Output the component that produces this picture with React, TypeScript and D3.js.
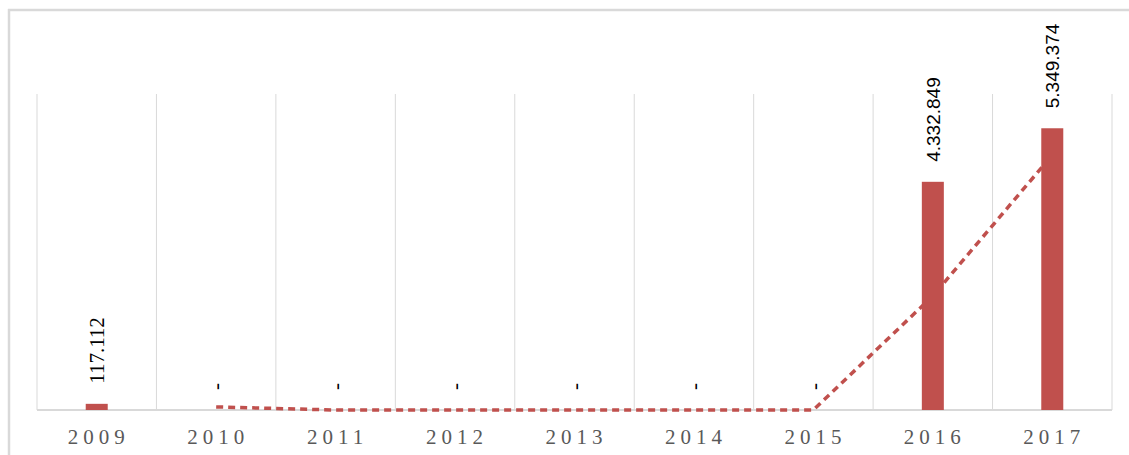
import * as d3 from 'd3';

const years = ['2009', '2010', '2011', '2012', '2013', '2014', '2015', '2016', '2017'];
const values = [117112, 0, 0, 0, 0, 0, 0, 4332849, 5349374];
const yMax = 6000000;

const W = 1129;
const H = 455;
const left = 37;
const right = 1112;
const top = 94;
const base = 410;
const red = '#C0504D';
const grid = '#d9d9d9';

const locale = d3.formatLocale({ decimal: ',', thousands: '.', grouping: [3], currency: ['', ''] });
const fmt = locale.format(',d');

export default function App(): JSX.Element {
  const x = d3.scaleBand<string>().domain(years).range([left, right]).paddingInner(0).paddingOuter(0);
  const y = d3.scaleLinear().domain([0, yMax]).range([base, top]);
  const bw = 22;
  const cx = (yr: string) => (x(yr) as number) + x.bandwidth() / 2;

  // 2-period moving average trendline
  const avg = values.slice(1).map((v, i) => ({ yr: years[i + 1], v: (v + values[i]) / 2 }));
  const line = d3
    .line<{ yr: string; v: number }>()
    .x(d => cx(d.yr))
    .y(d => y(d.v));

  const bounds = years.map(yr => x(yr) as number).concat([right]);

  return (
    <svg
      width={W}
      height={H}
      style={{ position: 'absolute', left: 0, top: 0, background: '#fff' }}
    >
      <line x1={8} x2={W} y1={10} y2={10} stroke={grid} strokeWidth={2.5} />
      <line x1={9} x2={9} y1={9} y2={H} stroke={grid} strokeWidth={2.5} />

      {bounds.map((bx, i) => (
        <line key={i} x1={bx} x2={bx} y1={top} y2={base} stroke={grid} strokeWidth={1} />
      ))}
      <line x1={left} x2={right} y1={base} y2={base} stroke={grid} strokeWidth={2} />

      <path
        d={line(avg) || ''}
        fill="none"
        stroke={red}
        strokeWidth={3.5}
        strokeDasharray="7 5"
        strokeLinecap="butt"
      />

      {years.map((yr, i) => (
        <rect key={yr} x={cx(yr) - bw / 2} y={y(values[i])} width={bw} height={base - y(values[i])} fill={red} />
      ))}

      {years.map((yr, i) => {
        const v = values[i];
        const big = v >= 1000000;
        return (
          <text
            key={'l' + yr}
            transform={`translate(${cx(yr)},${y(v) - 20}) rotate(-90)`}
            dy={big ? '0.36em' : '0.34em'}
            fontFamily={big ? "'Liberation Sans', Arial, sans-serif" : "'Liberation Serif', 'Times New Roman', serif"}
            fontSize={big ? 19 : 21}
            fill="#000"
          >
            {v === 0 ? '-' : fmt(v)}
          </text>
        );
      })}

      {years.map(yr => (
        <text
          key={'t' + yr}
          x={cx(yr) + 2}
          y={444}
          textAnchor="middle"
          fontFamily="'Liberation Serif', 'Times New Roman', serif"
          fontSize={21}
          letterSpacing={5}
          fill="#595959"
        >
          {yr}
        </text>
      ))}
    </svg>
  );
}
